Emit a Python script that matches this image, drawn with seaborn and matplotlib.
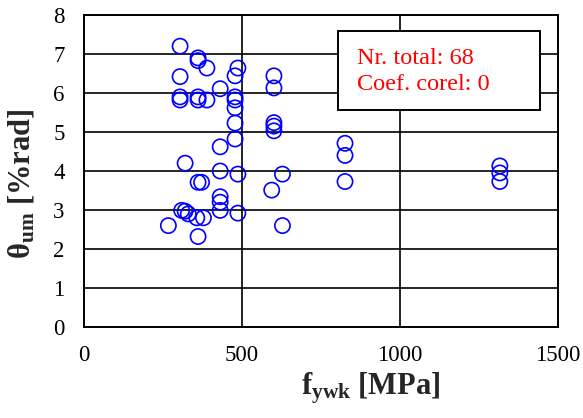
import matplotlib
matplotlib.use("Agg")
import matplotlib.pyplot as plt
from matplotlib.patches import Rectangle
import seaborn as sns
import pandas as pd

# Stirrup yield strength [MPa] and ultimate chord rotation [%rad]
fywk = [304, 361, 361, 389, 487, 478, 304, 601, 601, 431,
        304, 304, 361, 361, 389, 478, 478, 478, 478, 478,
        431, 320, 601, 601, 601, 826, 826, 826, 1316, 1316,
        1316, 431, 487, 628, 594, 361, 372, 431, 431, 431,
        309, 320, 330, 487, 357, 378, 267, 361, 628]
theta_um = [7.2, 6.9, 6.83, 6.64, 6.64, 6.44, 6.42, 6.44, 6.13, 6.11,
            5.9, 5.82, 5.9, 5.82, 5.82, 5.9, 5.82, 5.62, 5.23, 4.82,
            4.62, 4.2, 5.24, 5.15, 5.03, 4.71, 4.4, 3.73, 4.13, 3.95,
            3.73, 4.0, 3.92, 3.92, 3.51, 3.71, 3.71, 3.34, 3.2, 2.99,
            2.99, 2.97, 2.9, 2.92, 2.8, 2.8, 2.6, 2.32, 2.6]
x_ticks = [0, 500, 1000, 1500]
y_ticks = [0, 1, 2, 3, 4, 5, 6, 7, 8]
n_total = 68
coef_corel = 0

sns.set_theme(style="white")
plt.rcParams["font.family"] = ["Liberation Serif", "DejaVu Serif"]
plt.rcParams["mathtext.fontset"] = "custom"
plt.rcParams["mathtext.rm"] = "Liberation Serif"
plt.rcParams["mathtext.bf"] = "Liberation Serif:bold"
plt.rcParams["mathtext.it"] = "Liberation Serif:italic"

df = pd.DataFrame({"fywk": fywk, "theta": theta_um})

fig = plt.figure(figsize=(5.83, 4.18), dpi=100)
ax = fig.add_axes([84 / 583, 91 / 418, 474 / 583, 312 / 418])

sns.scatterplot(data=df, x="fywk", y="theta", ax=ax, marker="o", s=120,
                facecolors="none", edgecolor="#0000ff", linewidth=1.2,
                zorder=3, legend=False)

ax.set_xlim(0, 1500)
ax.set_ylim(0, 8)
ax.set_xticks(x_ticks)
ax.set_yticks(y_ticks)
ax.grid(True, color="black", linewidth=1.2)
ax.set_axisbelow(True)
for s in ax.spines.values():
    s.set_color("black")
    s.set_linewidth(1.4)
ax.tick_params(axis="both", length=0, labelsize=16.5, colors="black")
ax.tick_params(axis="y", pad=14)
ax.tick_params(axis="x", pad=13)

ax.set_xlabel(r"f$_{\mathbf{ywk}}$ [MPa]", fontsize=22, fontweight="bold")
ax.set_ylabel(r"θ$_{\mathbf{um}}$ [%rad]", fontsize=22, fontweight="bold")
ax.xaxis.set_label_coords(0.605, -0.14)
ax.yaxis.set_label_coords(-0.1, 0.46)

# Statistics box
ax.add_patch(Rectangle((0.536, 0.696), 0.426, 0.253, transform=ax.transAxes,
                       facecolor="white", edgecolor="black", linewidth=1.4,
                       zorder=5))
ax.text(0.576, 0.818, f"Nr. total: {n_total}\nCoef. corel: {coef_corel}",
        transform=ax.transAxes, color="red", fontsize=17.5,
        va="center", ha="left", linespacing=1.3, zorder=6)

fig.savefig("out.png", dpi=100)
